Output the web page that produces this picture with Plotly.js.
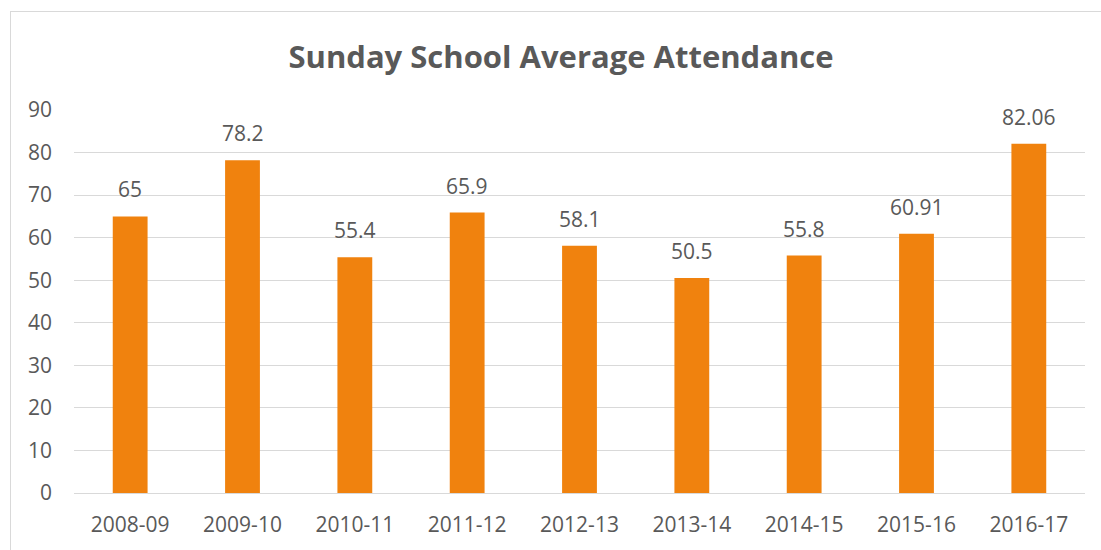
<!DOCTYPE html>
<html>
<head>
<meta charset="utf-8">
<script src="https://cdn.plot.ly/plotly-3.0.1.min.js"></script>
<style>
  html, body { margin: 0; padding: 0; background: #ffffff; }
  #frame { position: absolute; left: 10px; top: 11px; width: 1200px; height: 700px;
           border-left: 1px solid #d9d9d9; border-top: 1px solid #d9d9d9; }
  #chart { position: absolute; left: 0; top: 0; width: 1101px; height: 550px; }
</style>
</head>
<body>
<div id="frame"></div>
<div id="chart"></div>
<script>
const categories = ["2008-09", "2009-10", "2010-11", "2011-12", "2012-13", "2013-14", "2014-15", "2015-16", "2016-17"];
const attendance = [65, 78.2, 55.4, 65.9, 58.1, 50.5, 55.8, 60.91, 82.06];
const valueLabels = ["65", "78.2", "55.4", "65.9", "58.1", "50.5", "55.8", "60.91", "82.06"];
const yTicks = [0, 10, 20, 30, 40, 50, 60, 70, 80, 90];

const textColor = "#595959";
const fontFamily = "'Open Sans', sans-serif";

const trace = {
  type: "bar",
  x: categories,
  y: attendance,
  marker: { color: "#F0820E", line: { width: 0 } },
  hoverinfo: "x+y"
};

const annotations = categories.map((c, i) => ({
  x: c, y: attendance[i], xref: "x", yref: "y",
  text: valueLabels[i], showarrow: false,
  yanchor: "bottom", yshift: 11,
  font: { family: fontFamily, size: 21, color: textColor }
}));

const layout = {
  width: 1101, height: 550,
  margin: { l: 74, r: 16, t: 110, b: 57 },
  paper_bgcolor: "rgba(0,0,0,0)",
  plot_bgcolor: "rgba(0,0,0,0)",
  bargap: 0.69,
  showlegend: false,
  title: {
    text: "<b>Sunday School Average Attendance</b>",
    font: { family: fontFamily, size: 31, color: textColor },
    x: 561 / 1101, xref: "container", xanchor: "center",
    y: 1 - 57 / 550, yref: "container", yanchor: "middle"
  },
  xaxis: {
    type: "category",
    showgrid: false,
    showline: true, linecolor: "#d9d9d9", linewidth: 1,
    ticks: "", ticklabelstandoff: 13,
    tickfont: { family: fontFamily, size: 21, color: textColor },
    zeroline: false
  },
  yaxis: {
    range: [0, 90],
    tickvals: yTicks,
    ticktext: yTicks.map(String),
    showgrid: true, gridcolor: "#d9d9d9", gridwidth: 1,
    zeroline: false, showline: false,
    ticks: "", ticklabelstandoff: 21,
    tickfont: { family: fontFamily, size: 21, color: textColor }
  },
  annotations: annotations
};

Plotly.newPlot("chart", [trace], layout, { displayModeBar: false, staticPlot: true });
</script>
</body>
</html>
